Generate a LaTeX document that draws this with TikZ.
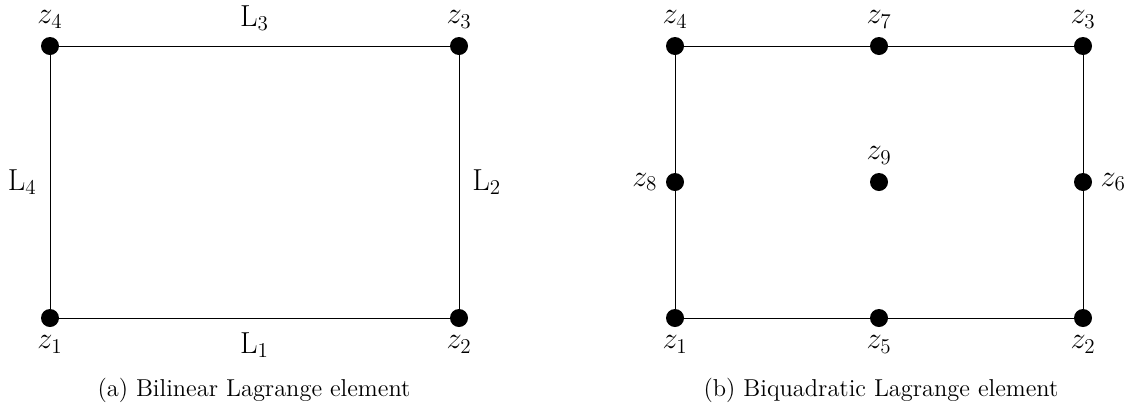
\documentclass[tikz,border=0pt]{standalone}
\usepackage{amsmath}
\usetikzlibrary{positioning}

\begin{document}
\begin{tikzpicture}[
  label distance = 0.16cm,
  dot/.style = {circle, fill=black, inner sep=0pt, minimum size=0.36cm, on grid},
  zlab/.style = {font=\fontsize{17}{20}\selectfont, inner sep=0pt},
  side/.style = {font=\fontsize{17}{20}\selectfont, inner sep=0pt},
  edge/.style = {line width=0.5pt},
  captext/.style = {font=\fontsize{13.9}{16}\selectfont, anchor=base},
]
  \useasboundingbox (0,0) rectangle (22.58,-8.16);

  % (a) bilinear element
  \node[dot, label={[zlab]below:$z_1$}] (a1) at (1.00,-6.36) {};
  \node[dot, right=8.18cm of a1, label={[zlab]below:$z_2$}] (a2) {};
  \node[dot, above=5.44cm of a2, label={[zlab]above:$z_3$}] (a3) {};
  \node[dot, left=8.18cm of a3,  label={[zlab]above:$z_4$}] (a4) {};

  \draw[edge] (a1) -- node[side, below=0.28cm]  {$\mathrm{L}_1$} (a2);
  \draw[edge] (a2) -- node[side, right=0.26cm] {$\mathrm{L}_2$} (a3);
  \draw[edge] (a3) -- node[side, above=0.3cm] {$\mathrm{L}_3$} (a4);
  \draw[edge] (a4) -- node[side, left=0.26cm]  {$\mathrm{L}_4$} (a1);

  % (b) biquadratic element
  \node[dot, label={[zlab]below:$z_1$}] (b1) at (13.50,-6.36) {};
  \node[dot, right=4.08cm of b1, label={[zlab]below:$z_5$}] (b5) {};
  \node[dot, right=4.08cm of b5, label={[zlab]below:$z_2$}] (b2) {};
  \node[dot, above=2.72cm of b2, label={[zlab]right:$z_6$}] (b6) {};
  \node[dot, above=2.72cm of b6, label={[zlab]above:$z_3$}] (b3) {};
  \node[dot, left=4.08cm of b3,  label={[zlab]above:$z_7$}] (b7) {};
  \node[dot, left=4.08cm of b7,  label={[zlab]above:$z_4$}] (b4) {};
  \node[dot, below=2.72cm of b4, label={[zlab]left:$z_8$}]  (b8) {};
  \node[dot, right=4.08cm of b8, label={[zlab]above:$z_9$}] (b9) {};

  \draw[edge] (b1) -- (b5) -- (b2) -- (b6) -- (b3) -- (b7) -- (b4) -- (b8) -- (b1);

  % captions
  \node[captext] (capa) at (5.08,-7.92)  {(a) Bilinear Lagrange element};
  \node[captext] (capb) at (17.62,-7.92) {(b) Biquadratic Lagrange element};
\end{tikzpicture}
\end{document}
